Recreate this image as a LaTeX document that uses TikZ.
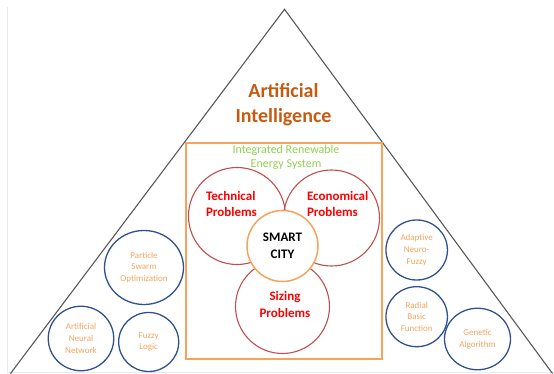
\documentclass[tikz,border=0pt]{standalone}
\usepackage{fontspec}
\setmainfont{Carlito}
\usetikzlibrary{shapes.geometric}

\definecolor{aibrown}{RGB}{197,90,17}
\definecolor{irgreen}{RGB}{146,208,80}
\definecolor{probred}{RGB}{255,0,0}
\definecolor{ringred}{RGB}{192,80,77}
\definecolor{ringblue}{RGB}{47,82,143}
\definecolor{boxorange}{RGB}{247,163,92}
\definecolor{methodorange}{RGB}{244,164,96}
\definecolor{edgegray}{RGB}{88,88,88}
\definecolor{framegray}{RGB}{228,236,238}

\tikzset{
  fsz/.style n args={2}{font=\fontsize{#1}{#2}\selectfont},
  problemring/.style={circle, draw=ringred, line width=1.1pt, inner sep=0pt},
  method/.style={ellipse, draw=ringblue, line width=1.3pt, inner sep=0pt,
    align=center, text=methodorange, fsz={9}{11.6}},
  problemtext/.style={text=probred, font=\fontsize{13}{16.5}\selectfont\bfseries},
}

\begin{document}
\begin{tikzpicture}[x=1pt, y=-1pt]
  \useasboundingbox (0,0) rectangle (554,374);

  % faint outer frame lines
  \draw[framegray, line width=0.8pt] (7,7) -- (7,372) -- (554,372);

  % pyramid
  \coordinate (apex) at (284.5,9.3);
  \coordinate (baseL) at (10.5,373.5);
  \coordinate (baseR) at (552.5,373.5);
  \draw[edgegray, line width=1.1pt] (baseL) -- (apex) -- (baseR);

  % title
  \node[text=aibrown, align=center, font=\fontsize{20}{25}\selectfont\bfseries]
    (ai) at (283.5,104.5) {Artificial\\Intelligence};

  % integrated renewable energy system box
  \node[draw=boxorange, line width=1.4pt, minimum width=196pt, minimum height=216pt,
    inner sep=0pt] (ires) at (284,251) {};

  % problem rings
  \node[problemring, minimum size=97pt] (tech) at (237,216) {};
  \node[problemring, minimum size=96pt] (econ) at (331.5,218) {};
  \node[problemring, minimum size=94pt] (size) at (282.5,306.5) {};

  % smart city hub
  \node[circle, draw=boxorange, fill=white, line width=1.5pt, minimum size=71pt,
    inner sep=0pt, align=center, font=\fontsize{13}{16.7}\selectfont\bfseries]
    (city) at (282.5,246) {SMART\\CITY};

  \node[text=irgreen, align=center, fsz={12}{14}] (irestext) at (286,157.5)
    {Integrated Renewable\\Energy System};

  \node[problemtext, align=left, anchor=west] (techtext) at (202.5,204)
    {Technical\\Problems};
  \node[problemtext, align=left, anchor=west] (econtext) at (303.5,204)
    {Economical\\Problems};
  \node[problemtext, align=center] (sizetext) at (285,304.5)
    {Sizing\\Problems};

  % AI methods
  \node[method, minimum width=79pt, minimum height=74pt] (pso) at (144,267.5)
    {Particle\\Swarm\\Optimization};
  \node[method, minimum width=65.5pt, minimum height=64.5pt] (ann) at (81,338.5)
    {Artificial\\Neural\\Network};
  \node[method, minimum width=60pt, minimum height=59pt] (fuzzy) at (148.7,342)
    {Fuzzy\\Logic};
  \node[method, minimum width=61.5pt, minimum height=60pt] (anfis) at (416.7,250)
    {Adaptive\\Neuro-\\Fuzzy};
  \node[method, minimum width=61.5pt, minimum height=60pt] (rbf) at (416.7,316.7)
    {Radial\\Basic\\Function};
  \node[method, minimum width=66pt, minimum height=61.5pt] (ga) at (477.5,339)
    {Genetic\\Algorithm};
\end{tikzpicture}
\end{document}
